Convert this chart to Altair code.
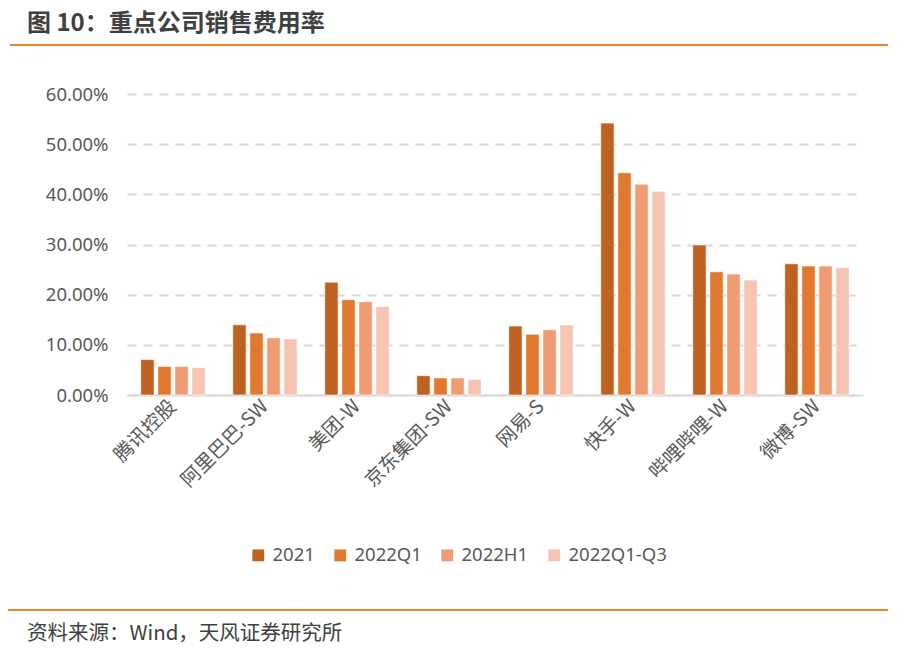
import altair as alt
import pandas as pd

companies = ["腾讯控股", "阿里巴巴-SW", "美团-W", "京东集团-SW", "网易-S", "快手-W", "哔哩哔哩-W", "微博-SW"]
series = ["2021", "2022Q1", "2022H1", "2022Q1-Q3"]
v2021 = [0.0705, 0.140, 0.225, 0.0385, 0.1375, 0.542, 0.299, 0.2615]
v2022q1 = [0.057, 0.1235, 0.190, 0.034, 0.121, 0.443, 0.2455, 0.257]
v2022h1 = [0.057, 0.114, 0.186, 0.034, 0.130, 0.420, 0.241, 0.257]
v2022q13 = [0.0545, 0.112, 0.1765, 0.031, 0.1395, 0.406, 0.229, 0.254]
colors = ["#BD6222", "#E0782E", "#F09C72", "#F5C4B2"]

title_text = "图 10：重点公司销售费用率"
source_text = "资料来源：Wind，天风证券研究所"

rows = []
for s, vals in zip(series, [v2021, v2022q1, v2022h1, v2022q13]):
    for c, v in zip(companies, vals):
        rows.append({"company": c, "series": s, "value": v})
df = pd.DataFrame(rows)

FONT = "Noto Sans CJK SC"
NUMFONT = "Noto Sans"

bars = alt.Chart(df).mark_bar(stroke="white", strokeWidth=0.6).encode(
    x=alt.X("company:N", sort=companies, title=None,
            scale=alt.Scale(paddingInner=0.3, paddingOuter=0.15),
            axis=alt.Axis(labelAngle=-45, labelAlign="right", labelBaseline="middle",
                          labelFontSize=19.5, labelColor="#595959", labelFont=FONT,
                          ticks=False, domainColor="#D9D9D9", domainWidth=2,
                          labelPadding=8, grid=False)),
    xOffset=alt.XOffset("series:N", sort=series, scale=alt.Scale(paddingInner=0.22)),
    y=alt.Y("value:Q", title=None,
            scale=alt.Scale(domain=[0, 0.6], nice=False),
            axis=alt.Axis(values=[0, 0.1, 0.2, 0.3, 0.4, 0.5, 0.6], format=".2%",
                          labelFontSize=18.5, labelColor="#595959", labelFont=NUMFONT,
                          ticks=False, domain=False, labelPadding=19,
                          grid=True, gridColor="#D9D9D9", gridDash=[9, 7], gridWidth=2)),
    color=alt.Color("series:N", sort=series,
                    scale=alt.Scale(domain=series, range=colors),
                    legend=alt.Legend(title=None, orient="none", direction="horizontal",
                                      legendX=122, legendY=452,
                                      symbolType="square", symbolSize=140,
                                      symbolStrokeWidth=0,
                                      labelFontSize=18.5, labelColor="#595959",
                                      labelFont=NUMFONT, columnPadding=16,
                                      labelOffset=5)),
)

deco = pd.DataFrame({"k": [0]})

top_line = alt.Chart(deco).mark_rule(color="#EE8526", strokeWidth=2).encode(
    x=alt.value(-117), x2=alt.value(761), y=alt.value(-49))
bottom_line = alt.Chart(deco).mark_rule(color="#EE8526", strokeWidth=2).encode(
    x=alt.value(-121), x2=alt.value(761), y=alt.value(516))

title = alt.Chart(pd.DataFrame({"t": [title_text]})).mark_text(
    align="left", baseline="middle", fontSize=24, fontWeight="bold",
    color="#404040", font=FONT).encode(
    text="t:N", x=alt.value(-100), y=alt.value(-70))

source = alt.Chart(pd.DataFrame({"t": [source_text]})).mark_text(
    align="left", baseline="middle", fontSize=20.5,
    color="#404040", font=FONT).encode(
    text="t:N", x=alt.value(-100), y=alt.value(540))

chart = alt.layer(bars, top_line, bottom_line, title, source).properties(
    width=736, height=301,
    background="white",
    autosize=alt.AutoSizeParams(type="none"),
    padding={"left": 119, "top": 86, "right": 25, "bottom": 255},
).configure_view(stroke=None)

chart.save("out.html", embed_options={"renderer": "svg", "actions": False})
